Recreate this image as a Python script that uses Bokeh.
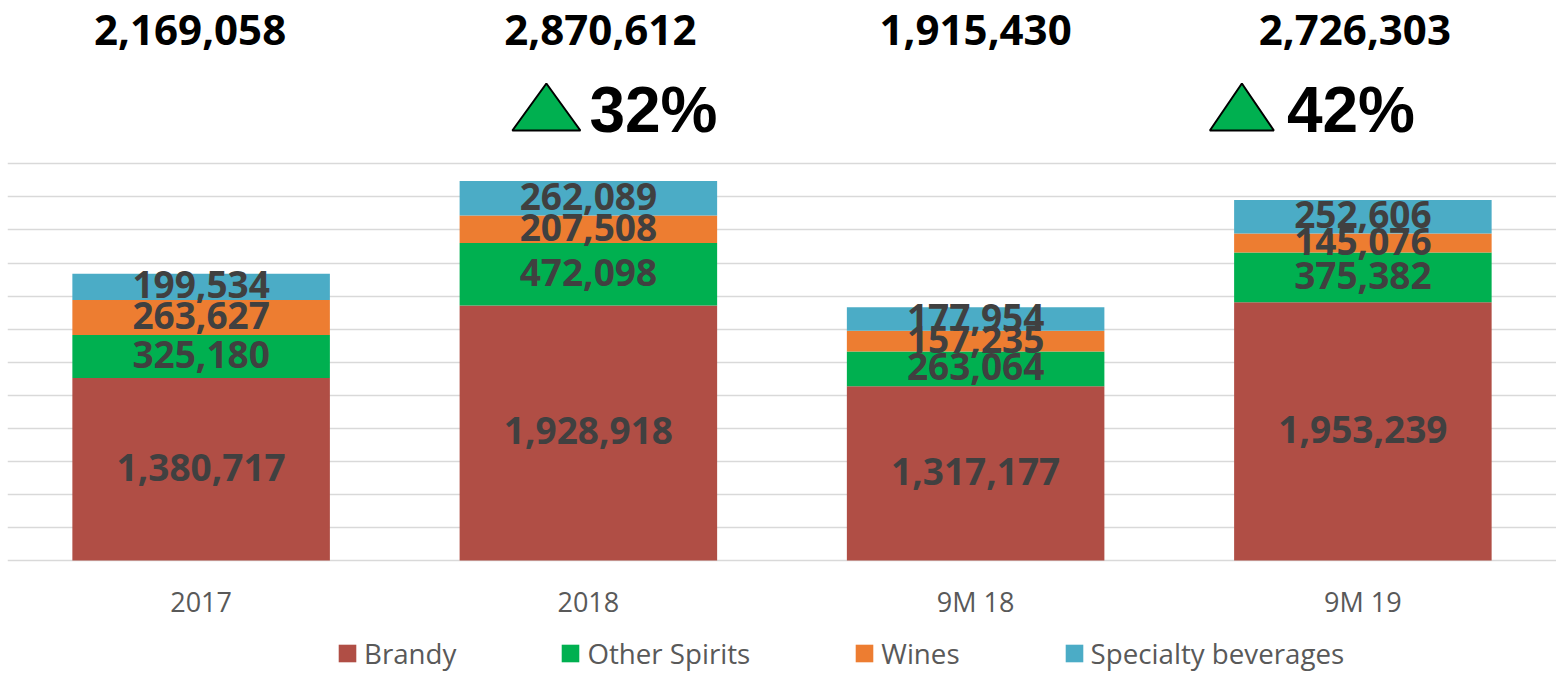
from bokeh.plotting import figure
from bokeh.models import ColumnDataSource, FactorRange, Range1d, FixedTicker, Legend, LegendItem
from bokeh.core.properties import value
from bokeh.embed import file_html
from bokeh.resources import INLINE

categories = ["2017", "2018", "9M 18", "9M 19"]
brandy = [1380717, 1928918, 1317177, 1953239]
other_spirits = [325180, 472098, 263064, 375382]
wines = [263627, 207508, 157235, 145076]
specialty = [199534, 262089, 177954, 252606]
totals = [2169058, 2870612, 1915430, 2726303]
growth = ["", "32%", "", "42%"]
series_keys = ["brandy", "other_spirits", "wines", "specialty"]
series_names = ["Brandy", "Other Spirits", "Wines", "Specialty beverages"]
colors = ["#B04E45", "#00B050", "#ED7D31", "#4BACC6"]

FW = 1549           # frame width (px)
FH = 668            # frame height (px), frame runs down to the bottom of the page
BASE_PX = 552       # y=0 sits this many px below frame top
UNITS_PER_PX = 250000 / 33.055
Y_MAX = BASE_PX * UNITS_PER_PX
Y_MIN = -(FH - BASE_PX) * UNITS_PER_PX
CAT_PX = FW / len(categories)


def ydata(py):
    """pixels from frame top -> data y"""
    return (BASE_PX - py) * UNITS_PER_PX


p = figure(x_range=FactorRange(*categories, range_padding=0), y_range=Range1d(Y_MIN, Y_MAX),
           frame_width=FW, frame_height=FH, output_backend="svg", toolbar_location=None,
           min_border_left=7, min_border_right=0, min_border_top=8, min_border_bottom=0)
p.outline_line_color = None
p.background_fill_color = "white"
p.border_fill_color = "white"

src = ColumnDataSource(dict(x=categories, brandy=brandy, other_spirits=other_spirits,
                            wines=wines, specialty=specialty))
rs = p.vbar_stack(series_keys, x="x", width=0.665, color=colors, line_color=None, source=src)

# grid
p.xgrid.visible = False
p.ygrid.ticker = FixedTicker(ticks=[i * 250000 for i in range(13)])
p.ygrid.grid_line_color = "#D9D9D9"
p.ygrid.grid_line_width = 1.6
p.yaxis.visible = False

# x axis, pinned at y = 0
ax = p.xaxis[0]
ax.fixed_location = 0
ax.axis_line_color = None
ax.major_tick_line_color = None
ax.minor_tick_line_color = None
ax.major_label_text_font = "Open Sans"
ax.major_label_text_font_size = "27px"
ax.major_label_text_color = "#595959"
ax.major_label_standoff = 16

# segment labels
lx, ly, lt = [], [], []
for i, c in enumerate(categories):
    base = 0
    for s in (brandy, other_spirits, wines, specialty):
        lx.append(c)
        ly.append(base + s[i] / 2)
        lt.append(f"{s[i]:,}")
        base += s[i]
p.text(x=lx, y=ly, text=lt, text_font=value("Open Sans"), text_font_style="bold",
       text_font_size="37px", text_color="#404040", text_align="center", text_baseline="middle",
       y_offset=-2)

# totals on top
tot_offsets = [-11, 12, 0, -8]
p.text(x=categories, y=[ydata(21)] * 4, text=[f"{t:,}" for t in totals], x_offset=tot_offsets,
       text_font=value("Open Sans"), text_font_style="bold", text_font_size="42px",
       text_color="black", text_align="center", text_baseline="middle")

# growth labels with triangles
gi = [i for i, g in enumerate(growth) if g]
g_text_off = {1: 1, 3: -76}
g_tri = {1: (-76, -8, -42), 3: (-153, -89, -121)}
p.text(x=[categories[i] for i in gi], y=[ydata(101)] * len(gi), text=[growth[i] for i in gi],
       x_offset=[g_text_off[i] for i in gi],
       text_font=value("Liberation Sans"), text_font_style="bold", text_font_size="64px",
       text_color="black", text_align="left", text_baseline="middle")
xs, ys = [], []
for i in gi:
    cx = (i + 0.5) * CAT_PX
    l, r, a = g_tri[i]
    xs.append([(cx + l) / CAT_PX, (cx + r) / CAT_PX, (cx + a) / CAT_PX])
    ys.append([ydata(122), ydata(122), ydata(75)])
p.patches(xs=xs, ys=ys, fill_color="#00B050", line_color="black", line_width=2)

legend = Legend(items=[LegendItem(label=n, renderers=[r]) for n, r in zip(series_names, rs)],
                orientation="horizontal", location=(329, 4))
legend.label_text_font = "Open Sans"
legend.label_text_font_size = "27.7px"
legend.label_text_color = "#595959"
legend.glyph_width = 22
legend.glyph_height = 22
legend.label_standoff = 6
legend.spacing = 103
legend.padding = 0
legend.margin = 0
legend.border_line_color = None
legend.background_fill_alpha = 0
p.add_layout(legend, "center")

open("out.html", "w").write(file_html(p, INLINE))
